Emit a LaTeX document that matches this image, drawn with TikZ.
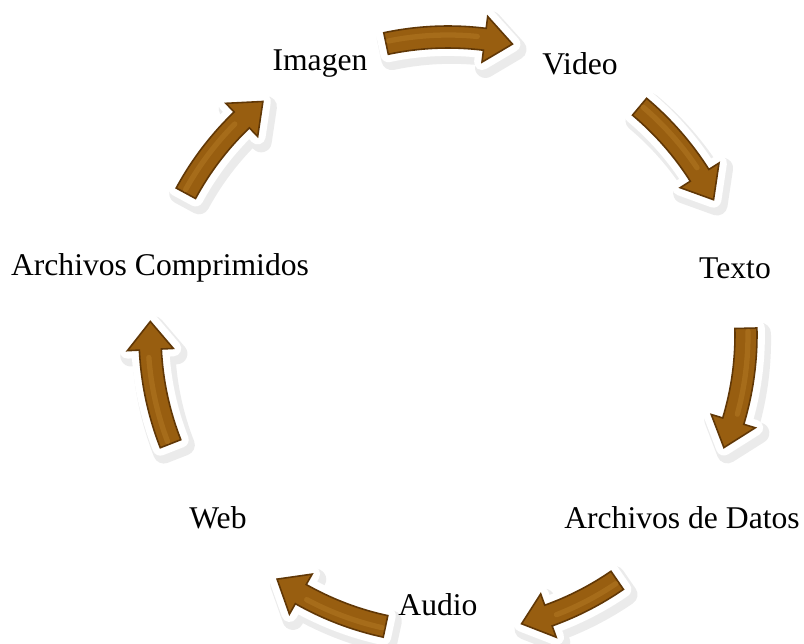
\documentclass[tikz,border=0pt]{standalone}
\usepackage{fontspec}
\setmainfont{Liberation Serif}
\usetikzlibrary{arrows.meta}

\definecolor{arrowbrown}{RGB}{152,94,16}
\definecolor{arrowdark}{RGB}{96,55,6}
\definecolor{arrowlight}{RGB}{184,126,40}

\tikzset{
  cyclabel/.style={font=\fontsize{18}{21}\selectfont, inner sep=2pt},
  arrowshadow/.style={fill=black, draw=black, line width=12pt, line join=round, opacity=0.08, xshift=2pt, yshift=-3pt},
  arrowborder/.style={fill=white, draw=white, line width=9pt, line join=round},
  arrowbody/.style={fill=arrowbrown, draw=arrowdark, line width=0.9pt, line join=miter},
  arrowshine/.style={draw=arrowlight, line width=3pt, opacity=0.45, line cap=round}
}

% radii of the cycle band (cm) and angle taken by the head
\def\rc{5.96}
\def\ro{6.18}
\def\ri{5.74}
\def\rh{6.42}
\def\rl{5.50}
\def\headang{5.4}

% curved block arrow on the cycle, from tail angle #1 to tip angle #2
\newcommand{\cyclearrow}[2]{%
  \pgfmathsetmacro{\hb}{#2+\headang}%
  \pgfmathsetmacro{\sb}{#2+\headang+1.5}%
  \path[arrowshadow] (#1:\ro) arc[start angle=#1, end angle=\hb, radius=\ro] -- (\hb:\rh) -- (#2:\rc) -- (\hb:\rl) -- (\hb:\ri) arc[start angle=\hb, end angle=#1, radius=\ri] -- cycle;
  \path[arrowborder] (#1:\ro) arc[start angle=#1, end angle=\hb, radius=\ro] -- (\hb:\rh) -- (#2:\rc) -- (\hb:\rl) -- (\hb:\ri) arc[start angle=\hb, end angle=#1, radius=\ri] -- cycle;
  \path[arrowbody] (#1:\ro) arc[start angle=#1, end angle=\hb, radius=\ro] -- (\hb:\rh) -- (#2:\rc) -- (\hb:\rl) -- (\hb:\ri) arc[start angle=\hb, end angle=#1, radius=\ri] -- cycle;
  \draw[arrowshine] (#1-0.6:\rc+0.04) arc[start angle=#1-0.6, end angle=\sb, radius=\rc+0.04];
}

\begin{document}
\begin{tikzpicture}
  \useasboundingbox (-8.96,-6.16) rectangle (7.12,6.70);

  \node[cyclabel] (imagen) at (-2.56,5.42) {Imagen};
  \node[cyclabel] (video) at (2.64,5.42) {Video};
  \node[cyclabel] (texto) at (5.74,1.34) {Texto};
  \node[cyclabel] (datos) at (4.68,-3.66) {Archivos de Datos};
  \node[cyclabel] (audio) at (-0.20,-5.40) {Audio};
  \node[cyclabel] (web) at (-4.60,-3.66) {Web};
  \node[cyclabel] (comprimidos) at (-5.76,1.34) {Archivos Comprimidos};

  % arrows between the labels, clockwise
  \cyclearrow{102}{77.5}
  \cyclearrow{50}{27}
  \cyclearrow{1.3}{-22.2}
  \cyclearrow{-55.4}{-75.7}
  \cyclearrow{257.9}{235}
  \cyclearrow{201.4}{177.4}
  \cyclearrow{151.6}{128.4}
\end{tikzpicture}
\end{document}
